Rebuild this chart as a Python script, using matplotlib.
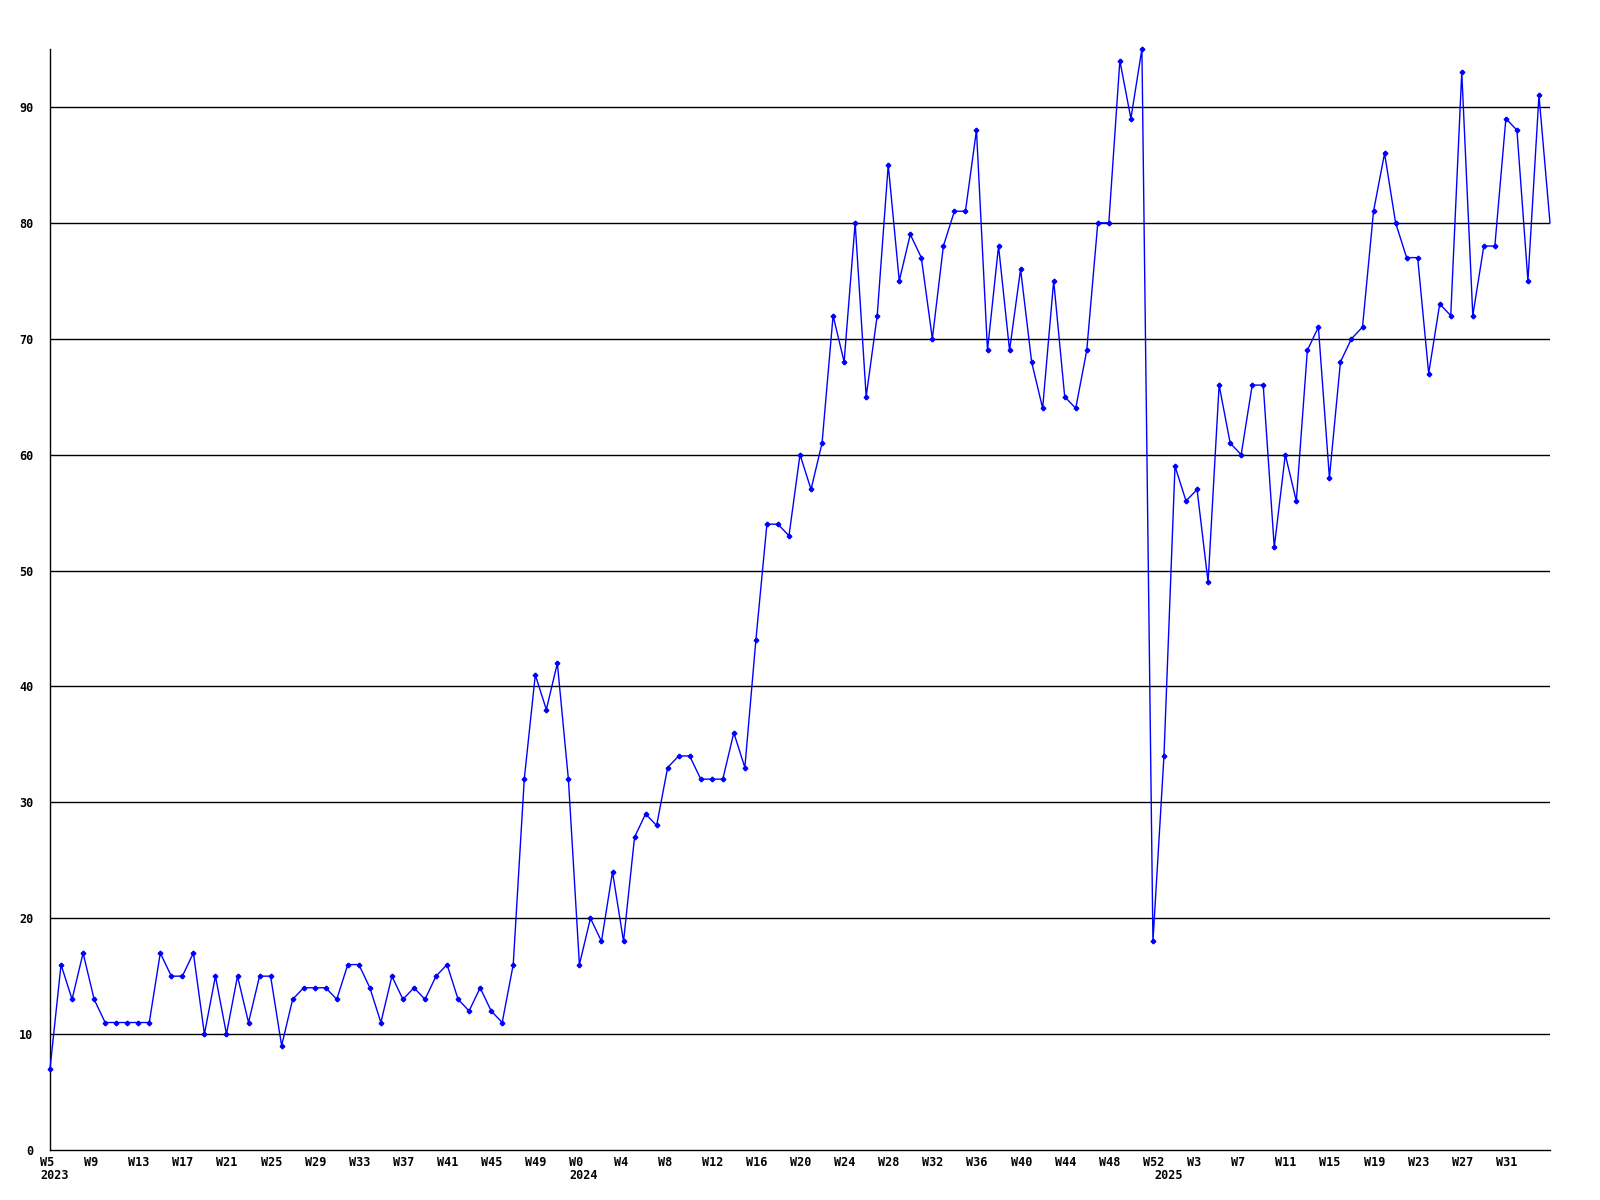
import matplotlib.pyplot as plt
from matplotlib.transforms import ScaledTranslation

# weekly values, W5 2023 .. W35 2025
values_2023 = [7, 16, 13, 17, 13, 11, 11, 11, 11, 11, 17, 15, 15, 17, 10, 15,
               10, 15, 11, 15, 15, 9, 13, 14, 14, 14, 13, 16, 16, 14, 11, 15,
               13, 14, 13, 15, 16, 13, 12, 14, 12, 11, 16, 32, 41, 38, 42, 32]
values_2024 = [16, 20, 18, 24, 18, 27, 29, 28, 33, 34, 34, 32, 32, 32, 36, 33,
               44, 54, 54, 53, 60, 57, 61, 72, 68, 80, 65, 72, 85, 75, 79, 77,
               70, 78, 81, 81, 88, 69, 78, 69, 76, 68, 64, 75, 65, 64, 69, 80,
               80, 94, 89, 95, 18]
values_2025 = [34, 59, 56, 57, 49, 66, 61, 60, 66, 66, 52, 60, 56, 69, 71, 58,
               68, 70, 71, 81, 86, 80, 77, 77, 67, 73, 72, 93, 72, 78, 78, 89,
               88, 75, 91, 80]

weeks = ([f"W{w}" for w in range(5, 53)] +
         [f"W{w}" for w in range(0, 53)] +
         [f"W{w}" for w in range(0, 36)])
years = ["2023", "2024", "2025"]
year_starts = [0, len(values_2023), len(values_2023) + len(values_2024)]

values = values_2023 + values_2024 + values_2025
x = list(range(len(values)))

plt.rcParams['font.family'] = 'DejaVu Sans Mono'

fig = plt.figure(figsize=(16, 12), dpi=100)
ax = fig.add_axes([50 / 1600, 50 / 1200, 1500 / 1600, 1101 / 1200])

for y in range(10, 100, 10):
    ax.axhline(y, color='black', lw=1, zorder=1)

# last point sits on the right edge without a marker
ax.plot(x, values, color='#0000ff', lw=1, marker='P', markersize=3,
        markevery=list(range(len(values) - 1)), zorder=3, clip_on=False)

ax.set_xlim(0, len(values) - 1)
ax.set_ylim(0, 95)
ax.set_yticks(range(0, 100, 10))
ax.set_yticklabels([str(v) for v in range(0, 100, 10)],
                   fontsize=8.5, fontweight='bold')
ax.tick_params(axis='y', length=0, pad=12)

tick_idx = list(range(0, len(values) - 1, 4))
ax.set_xticks(tick_idx)
ax.set_xticklabels([weeks[i] for i in tick_idx], fontsize=8.5,
                   fontweight='bold')
ax.tick_params(axis='x', length=0, pad=4)
shift = ScaledTranslation(-10 / 100, 0, fig.dpi_scale_trans)
for lab in ax.get_xticklabels():
    lab.set_ha('left')
    lab.set_transform(lab.get_transform() + shift)

for yr, i in zip(years, year_starts):
    ax.annotate(yr, xy=(i, 0), xycoords=('data', 'axes fraction'),
                xytext=(-10, -19), textcoords='offset pixels',
                ha='left', va='top', fontsize=8.5, fontweight='bold')

for side in ['top', 'right']:
    ax.spines[side].set_visible(False)
for side in ['left', 'bottom']:
    ax.spines[side].set_color('black')
    ax.spines[side].set_linewidth(1)

fig.savefig('out.png', dpi=100)
